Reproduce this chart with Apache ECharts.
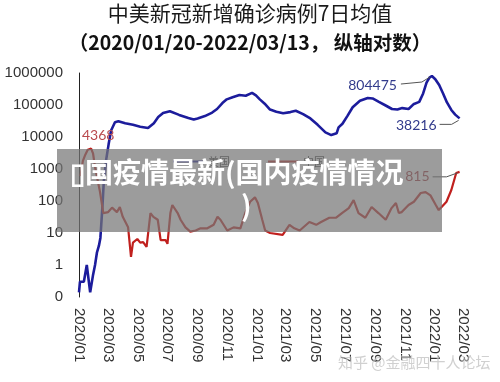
<!DOCTYPE html>
<html><head><meta charset="utf-8">
<script src="https://cdn.jsdelivr.net/npm/echarts@6/dist/echarts.min.js"></script>
<style>html,body{margin:0;padding:0;background:#fff}#c{width:500px;height:382px}</style>
</head><body><div id="c"></div>
<script>
const titleText = '中美新冠新增确诊病例7日均值';
const subtitleText = '（2020/01/20-2022/03/13， 纵轴对数）';
const overlayLine1 = '\u25AF国疫情最新(国内疫情情况';
const overlayLine2 = ')';
const watermarkText = '知乎 @金融四十人论坛';
const seriesNames = ['美国', '中国'];

const usDates = ['2020-01-20','2020-01-22','2020-01-30','2020-02-05','2020-02-12','2020-02-18','2020-02-22','2020-02-26','2020-03-01','2020-03-04','2020-03-08','2020-03-11','2020-03-16','2020-03-21','2020-03-26','2020-04-03','2020-04-10','2020-04-24','2020-05-10','2020-05-25','2020-06-10','2020-06-22','2020-07-01','2020-07-11','2020-07-25','2020-08-13','2020-09-01','2020-09-12','2020-09-20','2020-10-05','2020-10-20','2020-10-30','2020-11-10','2020-11-19','2020-12-01','2020-12-15','2020-12-28','2021-01-10','2021-01-18','2021-01-26','2021-02-05','2021-02-16','2021-03-01','2021-03-15','2021-03-30','2021-04-10','2021-04-25','2021-05-10','2021-05-25','2021-06-10','2021-06-22','2021-07-03','2021-07-07','2021-07-15','2021-07-25','2021-08-05','2021-08-20','2021-09-05','2021-09-15','2021-09-28','2021-10-10','2021-10-25','2021-11-05','2021-11-15','2021-11-28','2021-12-08','2021-12-20','2021-12-28','2022-01-04','2022-01-10','2022-01-15','2022-01-22','2022-01-30','2022-02-07','2022-02-15','2022-02-24','2022-03-04','2022-03-13'];
const usValues = [0.14,0.3,0.3,1,0.14,0.5,1,2.5,4,7,60,400,2000,6000,16000,29000,31000,27000,24000,21000,19000,27000,42000,56000,64000,49000,39000,35000,38000,45000,58000,75000,115000,150000,175000,205000,195000,240000,200000,150000,110000,72000,62000,55000,60000,66000,52000,38000,24000,14000,11500,13000,20000,26000,45000,85000,135000,165000,160000,125000,100000,75000,72000,80000,75000,105000,125000,230000,500000,720000,804475,640000,420000,230000,120000,70000,50000,38216];

const cnDates = ['2020-01-23','2020-01-28','2020-02-02','2020-02-07','2020-02-14','2020-02-18','2020-02-22','2020-02-27','2020-03-03','2020-03-10','2020-03-20','2020-03-28','2020-04-07','2020-04-13','2020-04-19','2020-04-30','2020-05-06','2020-05-10','2020-05-19','2020-05-25','2020-05-31','2020-06-07','2020-06-11','2020-06-15','2020-06-21','2020-06-30','2020-07-06','2020-07-16','2020-07-20','2020-07-26','2020-07-30','2020-08-03','2020-08-10','2020-08-16','2020-08-26','2020-09-05','2020-09-16','2020-09-26','2020-10-10','2020-10-23','2020-10-31','2020-11-06','2020-11-20','2020-12-03','2020-12-17','2020-12-27','2021-01-06','2021-01-16','2021-01-22','2021-01-31','2021-02-06','2021-02-16','2021-03-14','2021-03-28','2021-04-07','2021-04-18','2021-05-08','2021-05-22','2021-06-01','2021-06-18','2021-07-02','2021-07-14','2021-07-28','2021-08-07','2021-08-17','2021-08-31','2021-09-13','2021-09-27','2021-10-12','2021-10-24','2021-11-02','2021-11-08','2021-11-14','2021-11-28','2021-12-09','2021-12-23','2022-01-02','2022-01-12','2022-01-23','2022-01-29','2022-02-04','2022-02-14','2022-02-24','2022-03-06','2022-03-13'];
const cnValues = [600,1800,2800,4000,4368,3000,1150,480,200,42,45,62,45,65,32,15,1.8,5,6.5,5,5.2,3.7,4.2,42,32,26,6,6,4.6,42,75,65,42,26,15,11,12,14,14,18,32,26,12,15,14,42,95,130,87,26,12,10,8.7,18,14,12,22,18,22,30,30,42,60,107,42,30,65,42,26,60,87,42,45,75,95,178,190,150,75,52,65,95,220,750,815];

const xTickDates = ['2020-01-20','2020-03-20','2020-05-20','2020-07-20','2020-09-20','2020-11-20','2021-01-20','2021-03-20','2021-05-20','2021-07-20','2021-09-20','2021-11-20','2022-01-20','2022-03-20'];
const xMin = '2020-01-20';
const xMax = '2022-03-20';
const yMin = 0.1;
const yMax = 1000000;

// annotations: which series, date, value, label
const noteSeries = [1, 0, 0, 1];
const noteDates = ['2020-02-14', '2022-01-15', '2022-03-13', '2022-03-13'];
const noteValues = [4368, 804475, 38216, 815];

const DAY = 86400000;
function utc(s) { const p = s.split('-').map(Number); return Date.UTC(p[0], p[1] - 1, p[2]); }
function dayNo(s) { return Math.round((utc(s) - utc(xMin)) / DAY); }
function dayLabel(n) { const d = new Date(utc(xMin) + Math.round(n) * DAY); return d.getUTCFullYear() + '/' + String(d.getUTCMonth() + 1).padStart(2, '0'); }

const BLUE = '#1c1c9c', RED = '#c0201e';
const chart = echarts.init(document.getElementById('c'), null, { renderer: 'canvas' });

chart.setOption({
  backgroundColor: '#ffffff',
  animation: false,
  grid: { left: 79, right: 37, top: 73, bottom: 85, containLabel: false, outerBoundsMode: 'none' },
  legend: {
    data: seriesNames, left: 168, top: 151, icon: 'rect', itemWidth: 30, itemHeight: 2, itemGap: 38,
    textStyle: { fontSize: 11, color: '#333', fontFamily: 'Noto Sans CJK SC' }
  },
  xAxis: {
    type: 'value', min: 0, max: dayNo(xMax),
    axisLine: { show: false }, axisTick: { show: false }, splitLine: { show: false },
    axisLabel: {
      customValues: xTickDates.map(dayNo), interval: 0, hideOverlap: false,
      rotate: -90, margin: 11, fontSize: 15, color: '#333',
      fontFamily: 'Liberation Sans', formatter: function (v) { return dayLabel(v); }
    }
  },
  yAxis: {
    type: 'log', logBase: 10, min: yMin, max: yMax, splitNumber: 7,
    axisLine: { show: true, lineStyle: { color: '#222', width: 1 } },
    axisTick: { show: false }, splitLine: { show: false },
    axisLabel: {
      margin: 16, fontSize: 15, color: '#333', fontFamily: 'Liberation Sans',
      formatter: function (v) { return v < 0.5 ? '0' : String(Math.round(v)); }
    }
  },
  series: [
    { name: seriesNames[0], type: 'line', showSymbol: false, symbol: 'none', z: 3,
      lineStyle: { color: BLUE, width: 2.6 }, itemStyle: { color: BLUE },
      data: usDates.map((d, i) => [dayNo(d), usValues[i]]) },
    { name: seriesNames[1], type: 'line', showSymbol: false, symbol: 'none', z: 3,
      lineStyle: { color: RED, width: 2.2 }, itemStyle: { color: RED },
      data: cnDates.map((d, i) => [dayNo(d), cnValues[i]]) }
  ]
});

const graphics = [];
graphics.push({ type: 'text', left: 'center', top: 3, z: 120,
  style: { text: titleText, fill: '#1a1a1a', font: '21px "Noto Sans CJK SC"' } });
graphics.push({ type: 'text', left: 'center', top: 33, z: 120,
  style: { text: subtitleText, fill: '#111', font: 'bold 19.5px "Noto Sans CJK SC"' } });

const noteColors = ['#b94a4e', '#323b8c', '#323b8c', '#a3343a'];
const noteCfg = [
  { dx: 7, dy: -13, align: 'center', leader: null },
  { dx: -35, dy: 9, align: 'right', leader: [[-31, 8], [-10, 6], [-2, 1]] },
  { dx: -23, dy: 7, align: 'right', leader: [[-20, 6], [-8, 6], [-1, 2]] },
  { dx: -30, dy: 5, align: 'right', leader: [[-27, 5], [-13, 5], [-2, 1]] }
];
for (let i = 0; i < noteValues.length; i++) {
  const p = chart.convertToPixel({ xAxisIndex: 0, yAxisIndex: 0 }, [dayNo(noteDates[i]), noteValues[i]]);
  const c = noteCfg[i];
  graphics.push({ type: 'text', z: 50, x: p[0] + c.dx, y: p[1] + c.dy,
    style: { text: String(noteValues[i]), fill: noteColors[i], font: '14px Lato', align: c.align, verticalAlign: 'middle' } });
  if (c.leader) {
    graphics.push({ type: 'polyline', z: 50,
      shape: { points: c.leader.map(q => [p[0] + q[0], p[1] + q[1]]) },
      style: { stroke: '#555', lineWidth: 1, fill: null } });
  }
}

graphics.push({ type: 'rect', z: 100, shape: { x: 57, y: 149, width: 385, height: 83 },
  style: { fill: 'rgba(118,118,118,0.72)' } });
graphics.push({ type: 'text', z: 101, x: 70, y: 172,
  style: { text: overlayLine1, fill: '#fff', font: 'bold 28px "Noto Sans CJK SC"', verticalAlign: 'middle' } });
graphics.push({ type: 'text', z: 101, x: 241, y: 205,
  style: { text: overlayLine2, fill: '#fff', font: 'bold 28px "Noto Sans CJK SC"', verticalAlign: 'middle' } });

graphics.push({ type: 'text', z: 110, x: 338, y: 362,
  style: { text: watermarkText, fill: 'rgba(170,170,170,0.55)', font: '15px "Noto Sans CJK SC"', verticalAlign: 'middle',
    stroke: 'rgba(255,255,255,0.35)', lineWidth: 1.5 } });

chart.setOption({ graphic: graphics });
</script></body></html>
